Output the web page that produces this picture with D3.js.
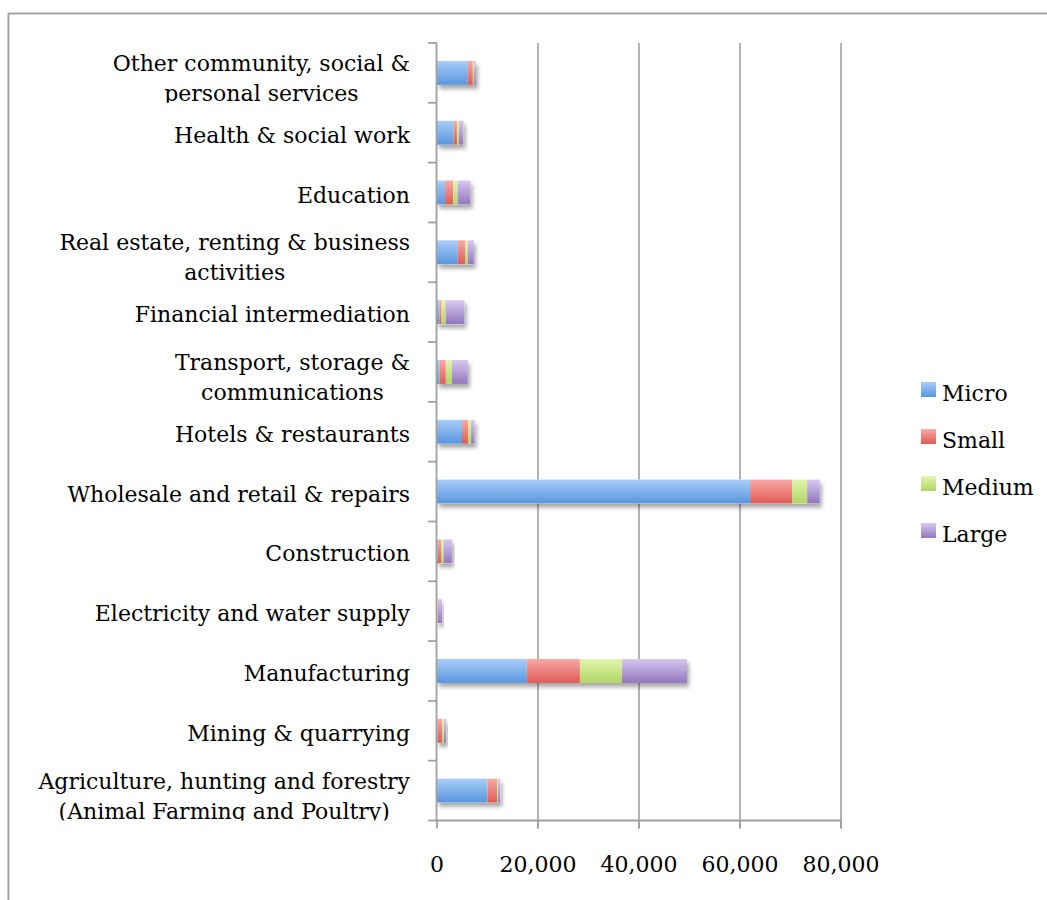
<!DOCTYPE html>
<html>
<head>
<meta charset="utf-8">
<script src="https://cdn.jsdelivr.net/npm/d3@7"></script>
<style>
  html, body { margin: 0; padding: 0; background: #fff; }
  svg { display: block; }
  text { font-family: "DejaVu Serif", "Liberation Serif", serif; fill: #000; }
</style>
</head>
<body>
<div id="chart"></div>
<script>
// Industry sectors, top to bottom; "\n" marks where the label wraps
const categories = [
  "Other community, social &\npersonal services",
  "Health & social work",
  "Education",
  "Real estate, renting & business\nactivities",
  "Financial intermediation",
  "Transport, storage &\ncommunications",
  "Hotels & restaurants",
  "Wholesale and retail & repairs",
  "Construction",
  "Electricity and water supply",
  "Manufacturing",
  "Mining & quarrying",
  "Agriculture, hunting and forestry\n(Animal Farming and Poultry)"
];

// Number of enterprises by size class, in the same order as categories
const micro  = [6100, 3300, 1600, 4100,  500,  500, 4950, 62000,  150,  50, 17800, 100, 10000];
const small  = [1000,  650, 1600, 1450,  400, 1250, 1200,  8300,  650,  50, 10500, 900,  1900];
const medium = [ 250,  400,  900,  550,  800, 1200,  600,  3000,  500, 100,  8300, 400,   200];
const large  = [ 350,  900, 2550, 1200, 3750, 3150,  700,  2500, 1650, 800, 12900, 400,   400];

const seriesNames = ["Micro", "Small", "Medium", "Large"];
const xTicks = [0, 20000, 40000, 60000, 80000];

// top and bottom gradient stops for each size class
const palette = {
  Micro:  ["#a8cdf9", "#5896de"],
  Small:  ["#fba9a5", "#de5b55"],
  Medium: ["#e2f6ad", "#b1d467"],
  Large:  ["#d7c7f1", "#9277bd"]
};

const FONT_SIZE = 22;
const W = 1047, H = 900;
const svg = d3.select("#chart").append("svg")
  .attr("width", W).attr("height", H);

const defs = svg.append("defs");
seriesNames.forEach(name => {
  const g = defs.append("linearGradient")
    .attr("id", "grad-" + name)
    .attr("x1", 0).attr("y1", 0).attr("x2", 0).attr("y2", 1);
  g.append("stop").attr("offset", "0%").attr("stop-color", palette[name][0]);
  g.append("stop").attr("offset", "100%").attr("stop-color", palette[name][1]);
});
const shadow = defs.append("filter").attr("id", "barShadow")
  .attr("x", "-10%").attr("y", "-30%").attr("width", "130%").attr("height", "180%");
shadow.append("feDropShadow")
  .attr("dx", 2).attr("dy", 4).attr("stdDeviation", 2.2)
  .attr("flood-color", "#000").attr("flood-opacity", 0.35);

// outer chart-area frame (runs off the right and bottom edges)
const frameColor = "#a3a3a3";
svg.append("line").attr("x1", 8).attr("x2", W).attr("y1", 13.5).attr("y2", 13.5)
  .attr("stroke", frameColor).attr("stroke-width", 2);
svg.append("line").attr("x1", 8.5).attr("x2", 8.5).attr("y1", 13).attr("y2", H)
  .attr("stroke", frameColor).attr("stroke-width", 2);

const plotTop = 43, plotBottom = 820.5;
const x = d3.scaleLinear().domain([0, 80000]).range([437, 841]);
const y = d3.scaleBand().domain(categories).range([plotTop, plotBottom])
  .paddingInner(0.6).paddingOuter(0.3);
const step = y.step();

const axisColor = "#a0a0a0";

// vertical gridlines
svg.append("g").selectAll("line").data(xTicks.filter(d => d > 0)).join("line")
  .attr("x1", d => x(d)).attr("x2", d => x(d))
  .attr("y1", plotTop).attr("y2", plotBottom + 8)
  .attr("stroke", axisColor).attr("stroke-width", 1.6);

// stacked data
const table = categories.map((c, i) => ({
  category: c, Micro: micro[i], Small: small[i], Medium: medium[i], Large: large[i]
}));
const stacked = d3.stack().keys(seriesNames)(table);

// shadow under each whole bar
svg.append("g").selectAll("rect").data(table).join("rect")
  .attr("x", x(0))
  .attr("y", d => y(d.category))
  .attr("width", d => x(d.Micro + d.Small + d.Medium + d.Large) - x(0))
  .attr("height", y.bandwidth())
  .attr("fill", "#fff")
  .attr("filter", "url(#barShadow)");

// bar segments
svg.append("g").selectAll("g").data(stacked).join("g")
  .attr("fill", s => "url(#grad-" + s.key + ")")
  .selectAll("rect").data(s => s).join("rect")
  .attr("x", d => x(d[0]))
  .attr("y", d => y(d.data.category))
  .attr("width", d => x(d[1]) - x(d[0]))
  .attr("height", y.bandwidth());

// category axis: line with ticks at band boundaries
const yAxis = svg.append("g");
yAxis.append("line").attr("x1", x(0) - 0.5).attr("x2", x(0) - 0.5)
  .attr("y1", plotTop).attr("y2", plotBottom)
  .attr("stroke", axisColor).attr("stroke-width", 1.8);
yAxis.selectAll("line.tick").data(d3.range(categories.length + 1)).join("line")
  .attr("class", "tick")
  .attr("x1", x(0) - 9).attr("x2", x(0))
  .attr("y1", i => plotTop + i * step).attr("y2", i => plotTop + i * step)
  .attr("stroke", axisColor).attr("stroke-width", 1.8);

// category labels, clipped to their band; wrapped lines are centred
// within a block whose right edge sits at labelRight
const labelRight = 410;
categories.forEach((c, i) => {
  defs.append("clipPath").attr("id", "clip" + i)
    .append("rect").attr("x", 0).attr("y", plotTop + i * step)
    .attr("width", 430).attr("height", step);
});
const labels = svg.append("g").selectAll("text").data(categories).join("text")
  .attr("clip-path", (d, i) => "url(#clip" + i + ")")
  .attr("text-anchor", "middle")
  .attr("font-size", FONT_SIZE);
labels.each(function(d) {
  const lines = d.split("\n");
  const cy = y(d) + y.bandwidth() / 2;
  const t = d3.select(this);
  const spans = lines.map((ln, k) => t.append("tspan")
    .attr("y", lines.length === 1 ? cy + 10 : cy - 2 + k * 30)
    .text(ln));
  const widest = d3.max(spans, s => s.node().getComputedTextLength());
  spans.forEach(s => s.attr("x", labelRight - widest / 2));
});

// value axis
const xAxis = svg.append("g");
xAxis.append("line").attr("x1", x(0) - 1).attr("x2", x(80000) + 1)
  .attr("y1", plotBottom).attr("y2", plotBottom)
  .attr("stroke", axisColor).attr("stroke-width", 1.8);
xAxis.selectAll("line.tick").data(xTicks).join("line")
  .attr("class", "tick")
  .attr("x1", d => x(d)).attr("x2", d => x(d))
  .attr("y1", plotBottom).attr("y2", plotBottom + 8)
  .attr("stroke", axisColor).attr("stroke-width", 1.8);
xAxis.selectAll("text").data(xTicks).join("text")
  .attr("x", d => x(d)).attr("y", 872)
  .attr("text-anchor", "middle").attr("font-size", FONT_SIZE)
  .text(d3.format(","));

// legend
const legend = svg.append("g").selectAll("g").data(seriesNames).join("g")
  .attr("transform", (d, i) => `translate(921, ${382 + i * 47})`);
legend.append("rect").attr("width", 15).attr("height", 15)
  .attr("fill", d => "url(#grad-" + d + ")");
legend.append("text").attr("x", 21).attr("y", 18.5)
  .attr("font-size", FONT_SIZE).text(d => d);
</script>
</body>
</html>
